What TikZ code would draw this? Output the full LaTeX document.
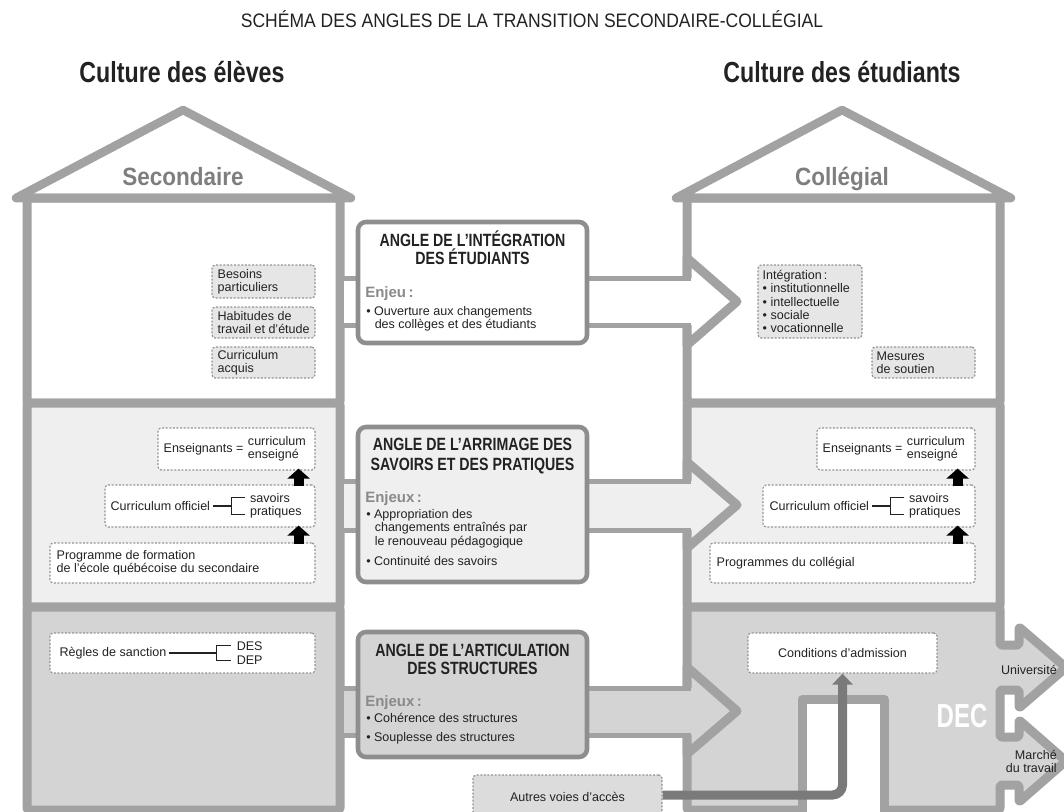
\documentclass[tikz,border=0pt]{standalone}
\usepackage{fontspec}
\setmainfont{Liberation Sans}
\newfontfamily\condf[FakeStretch=0.8]{Liberation Sans}
\newfontfamily\secf[FakeStretch=0.9]{Liberation Sans}
\newfontfamily\decf[FakeStretch=0.72]{Liberation Sans}
\usetikzlibrary{arrows.meta,fit}
\definecolor{houseg}{HTML}{A2A2A2}
\definecolor{angleg}{HTML}{8E8E8E}
\definecolor{midfill}{HTML}{EFEFEF}
\definecolor{botfill}{HTML}{D4D4D4}
\definecolor{dashfill}{HTML}{E6E6E6}
\definecolor{dotg}{HTML}{939393}
\definecolor{txtc}{HTML}{222222}
\definecolor{secg}{HTML}{7E7E7E}
\definecolor{enjg}{HTML}{8A8A8A}
\definecolor{arrg}{HTML}{7A7A7A}
\definecolor{autfill}{HTML}{DCDCDC}
\newcommand{\bodyf}{\fontsize{9.4pt}{10pt}\selectfont}
\newcommand{\btitf}{\condf\bfseries\fontsize{13.3pt}{13.5pt}\selectfont}
\newcommand{\enjf}{\bfseries\fontsize{11.25pt}{12pt}\selectfont}
\tikzset{
  wall/.style={draw=houseg, line width=6.75pt, line join=round},
  roofl/.style={draw=houseg, line width=6.4pt, line join=round, line cap=round},
  shaftl/.style={draw=houseg, line width=3.75pt},
  angbox/.style={draw=angleg, line width=3.4pt, rounded corners=6pt, inner sep=0pt},
  dotbox/.style={draw=dotg, line width=0.9pt, dash pattern=on 1.5pt off 1.2pt, rounded corners=2.5pt, inner sep=0pt, fill=white},
  greybox/.style={dotbox, fill=dashfill},
  txt/.style={inner sep=0pt, font=\bodyf, text=txtc, align=left},
  btitle/.style={inner sep=0pt, font=\btitf, text=txtc, anchor=base},
  enj/.style={inner sep=0pt, font=\enjf, text=enjg, anchor=base west},
  bul/.style={inner sep=0pt, font=\bodyf, text=txtc, anchor=base west},
  brk/.style={draw=txtc, line width=1pt},
  blkarrow/.style={draw=black, line width=7.5pt, -{Triangle[length=7.5pt,width=16.5pt]}},
  accarrow/.style={draw=arrg, line width=6.75pt, rounded corners=7.5pt, -{Triangle[length=8.25pt,width=15pt]}},
  culture/.style={inner sep=0pt, anchor=base, font=\condf\bfseries\fontsize{21.75pt}{24pt}\selectfont, text=txtc},
  level/.style={inner sep=0pt, anchor=base, font=\secf\bfseries\fontsize{18.75pt}{20pt}\selectfont, text=secg}
}
\begin{document}
\begin{tikzpicture}[x=0.75pt,y=-0.75pt]
\useasboundingbox (0,0) rectangle (1064,811);
% title and headings
\node[inner sep=0pt, anchor=base, font=\secf\fontsize{14.6pt}{16pt}\selectfont, text=txtc] (title) at (532,27) {SCHÉMA DES ANGLES DE LA TRANSITION SECONDAIRE-COLLÉGIAL};
\node[culture] (cultL) at (182,82) {Culture des élèves};
\node[culture] (cultR) at (842,82) {Culture des étudiants};
% floors, left house
\path[wall, rounded corners=1.5pt, fill=white] (27,198) rectangle (340,403);
\path[wall, rounded corners=1.5pt, fill=midfill] (27,403) rectangle (340,607);
\path[wall, rounded corners=1.5pt, fill=botfill] (27,607) rectangle (340,810);
% floors, right house
\path[wall, rounded corners=1.5pt, fill=white] (687,198) rectangle (1000,403);
\path[wall, rounded corners=1.5pt, fill=midfill] (687,403) rectangle (1000,607);
\path[wall, rounded corners=1.5pt, fill=botfill] (687,607) -- (1000,607) -- (1000,645) -- (1019,645) -- (1019,627) -- (1066,667.5) -- (1019,708) -- (1019,690) -- (1000,690) -- (1000,737) -- (1019,737) -- (1019,720) -- (1066,761) -- (1019,802) -- (1019,785) -- (1000,785) -- (1000,810) -- (687,810) -- cycle;
% roofs
\draw[roofl] (16,198) -- (183,110) -- (351,198) -- cycle;
\draw[roofl] (676,198) -- (842,110) -- (1011,198) -- cycle;
\node[level] (secL) at (183,185) {Secondaire};
\node[level] (colR) at (842,185) {Collégial};
% shafts: top level
\fill[white] (344,278) -- (687,278) -- (687,258) -- (737,301.5) -- (687,345) -- (687,325) -- (344,325) -- cycle;
\draw[wall] (687,278) -- (687,258) -- (737,301.5) -- (687,345) -- (687,325);
\draw[shaftl] (340,278) -- (691,278) (340,325) -- (691,325);
% shafts: middle level
\fill[midfill] (344,481) -- (687,481) -- (687,462) -- (737,505) -- (687,548) -- (687,530) -- (344,530) -- cycle;
\draw[wall] (687,481) -- (687,462) -- (737,505) -- (687,548) -- (687,530);
\draw[shaftl] (340,481) -- (691,481) (340,530) -- (691,530);
% shafts: bottom level
\fill[botfill] (344,688) -- (687,688) -- (687,667) -- (737,711) -- (687,754) -- (687,735) -- (344,735) -- cycle;
\draw[wall] (687,688) -- (687,667) -- (737,711) -- (687,754) -- (687,735);
\draw[shaftl] (340,688) -- (691,688) (340,735) -- (691,735);
% centre boxes
\node[angbox, fill=white, fit={(358,222) (587,343)}] (A1) {};
\node[angbox, fill=midfill, fit={(358,427) (587,582)}] (A2) {};
\node[angbox, fill=botfill, fit={(358,632) (587,757)}] (A3) {};
\node[btitle] (A1t1) at (472.5,246.7) {ANGLE DE L’INTÉGRATION};
\node[btitle] (A1t2) at (472.5,264.5) {DES ÉTUDIANTS};
\node[enj] (A1e) at (365,297) {Enjeu\,:};
\node[bul] (A1b1) at (366,315) {• Ouverture aux changements};
\node[bul] (A1b2) at (374.5,328.3) {des collèges et des étudiants};
\node[btitle] (A2t1) at (472.5,450) {ANGLE DE L’ARRIMAGE DES};
\node[btitle] (A2t2) at (472.5,470) {SAVOIRS ET DES PRATIQUES};
\node[enj] (A2e) at (365,502.7) {Enjeux\,:};
\node[bul] (A2b1) at (366,518.3) {• Appropriation des};
\node[bul] (A2b2) at (374.5,531.7) {changements entraînés par};
\node[bul] (A2b3) at (374.5,545) {le renouveau pédagogique};
\node[bul] (A2b4) at (366,565) {• Continuité des savoirs};
\node[btitle] (A3t1) at (472.5,656) {ANGLE DE L’ARTICULATION};
\node[btitle] (A3t2) at (472.5,674) {DES STRUCTURES};
\node[enj] (A3e) at (365,706) {Enjeux\,:};
\node[bul] (A3b1) at (366,722) {• Cohérence des structures};
\node[bul] (A3b2) at (366,741) {• Souplesse des structures};
% top floor, left
\node[greybox, fit={(212,265) (315,298)}] (b1) {};
\node[txt, anchor=west] (b1t) at ([xshift=4.5pt]b1.west) {Besoins\\particuliers};
\node[greybox, fit={(212,307) (315,338)}] (b2) {};
\node[txt, anchor=west] (b2t) at ([xshift=4.5pt]b2.west) {Habitudes de\\travail et d’étude};
\node[greybox, fit={(212,347) (315,378)}] (b3) {};
\node[txt, anchor=west] (b3t) at ([xshift=4.5pt]b3.west) {Curriculum\\acquis};
% top floor, right
\node[greybox, fit={(758,265) (862,338)}] (r1) {};
\node[txt, anchor=west] (r1t) at ([xshift=3.75pt]r1.west) {Intégration\,:\\• institutionnelle\\• intellectuelle\\• sociale\\• vocationnelle};
\node[greybox, fit={(872,347) (975,378)}] (r2) {};
\node[txt, anchor=west] (r2t) at ([xshift=3.75pt]r2.west) {Mesures\\de soutien};
% middle floor, left
\node[dotbox, fit={(158,428) (315,470)}] (m1) {};
\node[txt, anchor=west] (m1a) at ([xshift=4.5pt]m1.west) {Enseignants =};
\node[txt, anchor=west] (m1b) at ([xshift=3pt]m1a.east) {curriculum\\enseigné};
\node[dotbox, fit={(105,485) (315,527)}] (m2) {};
\node[txt, anchor=west] (m2a) at ([xshift=4.5pt]m2.west) {Curriculum officiel};
\draw[brk] ([xshift=2.25pt]m2a.east) -- ++(18,0) coordinate (m2k);
\draw[brk] ([xshift=10.5pt,yshift=6.4pt]m2k) -- ([yshift=6.4pt]m2k) -- ([yshift=-6.4pt]m2k) -- ([xshift=10.5pt,yshift=-6.4pt]m2k);
\node[txt, anchor=west] (m2b) at ([xshift=13.9pt]m2k) {savoirs\\pratiques};
\node[dotbox, fit={(50,543) (315,583)}] (m3) {};
\node[txt, anchor=west] (m3t) at ([xshift=5.25pt]m3.west) {Programme de formation\\de l’école québécoise du secondaire};
\draw[blkarrow] ([xshift=-12.75pt,yshift=-1.5pt]m2.north east) -- ([xshift=-12.75pt,yshift=1.5pt]m1.south east);
\draw[blkarrow] ([xshift=-12.75pt,yshift=-1.5pt]m3.north east) -- ([xshift=-12.75pt,yshift=1.5pt]m2.south east);
% middle floor, right
\node[dotbox, fit={(817,428) (975,470)}] (n1) {};
\node[txt, anchor=west] (n1a) at ([xshift=4.5pt]n1.west) {Enseignants =};
\node[txt, anchor=west] (n1b) at ([xshift=3pt]n1a.east) {curriculum\\enseigné};
\node[dotbox, fit={(763,485) (975,527)}] (n2) {};
\node[txt, anchor=west] (n2a) at ([xshift=5.25pt]n2.west) {Curriculum officiel};
\draw[brk] ([xshift=2.25pt]n2a.east) -- ++(18,0) coordinate (n2k);
\draw[brk] ([xshift=10.5pt,yshift=6.4pt]n2k) -- ([yshift=6.4pt]n2k) -- ([yshift=-6.4pt]n2k) -- ([xshift=10.5pt,yshift=-6.4pt]n2k);
\node[txt, anchor=west] (n2b) at ([xshift=13.9pt]n2k) {savoirs\\pratiques};
\node[dotbox, fit={(710,543) (975,583)}] (n3) {};
\node[txt, anchor=west] (n3t) at ([xshift=5.25pt]n3.west) {Programmes du collégial};
\draw[blkarrow] ([xshift=-13.5pt,yshift=-1.5pt]n2.north east) -- ([xshift=-13.5pt,yshift=1.5pt]n1.south east);
\draw[blkarrow] ([xshift=-13.5pt,yshift=-1.5pt]n3.north east) -- ([xshift=-13.5pt,yshift=1.5pt]n2.south east);
% bottom floor, left
\node[dotbox, fit={(50,633) (315,673)}] (l1) {};
\node[txt, anchor=west] (l1a) at ([xshift=7.5pt]l1.west) {Règles de sanction};
\draw[brk] ([xshift=1.5pt]l1a.east) -- ++(48,0) coordinate (l1k);
\draw[brk] ([xshift=10.5pt,yshift=5.6pt]l1k) -- ([yshift=5.6pt]l1k) -- ([yshift=-5.6pt]l1k) -- ([xshift=10.5pt,yshift=-5.6pt]l1k);
\node[txt, anchor=west] (l1b) at ([xshift=15pt]l1k) {DES\\DEP};
% bottom floor, right
\node[dotbox, fit={(748,633) (937,673)}] (c1) {};
\node[txt] (c1t) at (c1.center) {Conditions d’admission};
\path[wall, fill=white] (802,816) -- (802,699) -- (884,699) -- (884,816);
\node[txt, anchor=base east] (univ) at (1057,674) {Université};
\node[txt, anchor=east, align=right] (marche) at (1057,761.5) {Marché\\du travail};
\node[inner sep=0pt, anchor=base, font=\decf\bfseries\fontsize{25pt}{26pt}\selectfont, text=white] (dec) at (962,727) {DEC};
\node[greybox, fill=autfill, fit={(473,775) (662,815)}] (aut) {};
\node[txt] (autt) at (567.5,796.5) {Autres voies d’accès};
\draw[accarrow] (aut.east) -| (c1.south);
\end{tikzpicture}
\end{document}
